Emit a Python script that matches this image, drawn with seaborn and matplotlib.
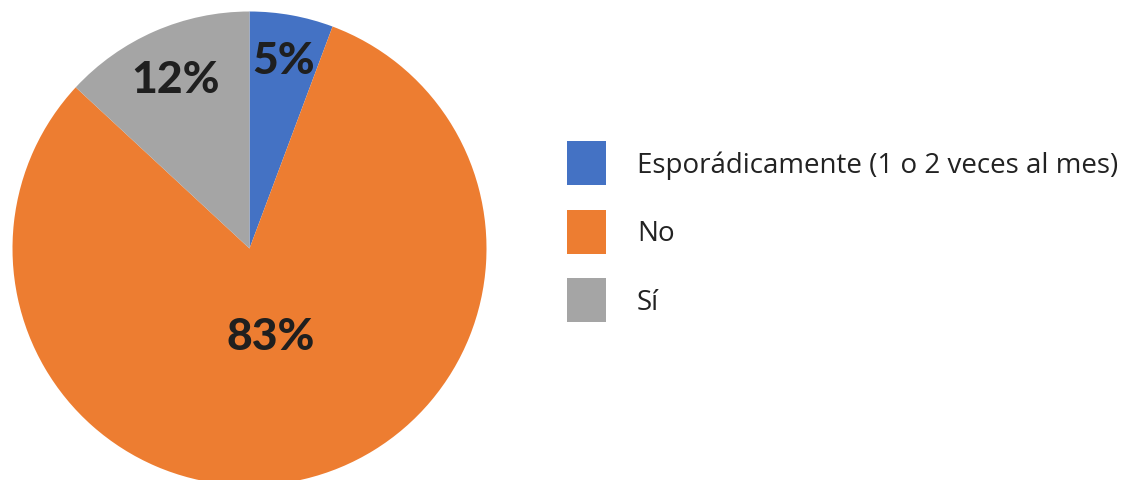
import numpy as np
import matplotlib
matplotlib.use("Agg")
import matplotlib.pyplot as plt
import seaborn as sns

categories = ["Esporádicamente (1 o 2 veces al mes)", "No", "Sí"]
values = [5.7, 81.2, 13.1]
pct_labels = ["5%", "83%", "12%"]
colors = ["#4472C4", "#ED7D31", "#A5A5A5"]
label_dist = [0.81, 0.38, 0.78]

sns.set_theme(style="white")
plt.rcParams['font.family'] = ['Lato', 'DejaVu Sans']

W, H = 1138, 481
fig = plt.figure(figsize=(W / 100, H / 100), dpi=100)
cx, cy, r = 249.5, 249.5, 237
ax = fig.add_axes([(cx - r) / W, (H - cy - r) / H, 2 * r / W, 2 * r / H])

wedges, _ = ax.pie(values, colors=colors, startangle=90, counterclock=False,
                   radius=1.0, wedgeprops=dict(linewidth=0))
ax.set_xlim(-1, 1)
ax.set_ylim(-1, 1)
ax.set_aspect('equal')
ax.axis('off')

for w, lab, d in zip(wedges, pct_labels, label_dist):
    ang = np.deg2rad((w.theta1 + w.theta2) / 2)
    ax.text(d * np.cos(ang), d * np.sin(ang), lab, ha='center', va='center',
            fontsize=32, fontweight='black', color='#1f1f1f')

fs = 20
fpx = fs * 100 / 72
hh_px = 44 / fpx
hh = (hh_px - 0.245) / 0.65
leg = fig.legend(wedges, categories, loc='upper left',
                 bbox_to_anchor=(567 / W, 1 - 142 / H), frameon=False,
                 prop={'family': ['Open Sans', 'DejaVu Sans'], 'size': fs},
                 handlelength=39 / fpx, handleheight=hh,
                 labelspacing=(68.5 - 44) / fpx, handletextpad=31 / fpx,
                 borderpad=0, borderaxespad=0)
for t in leg.get_texts():
    t.set_color('#222222')

fig.savefig("out.png", dpi=100)
